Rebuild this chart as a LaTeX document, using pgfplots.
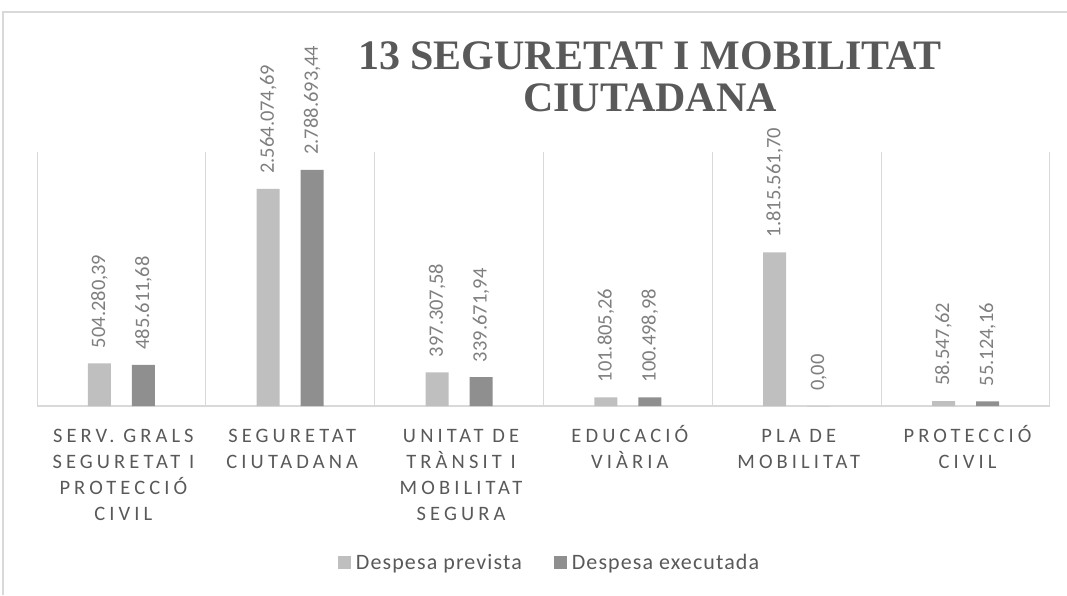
\documentclass[border=0pt]{standalone}
\usepackage{fontspec}
\setmainfont{Carlito}
\newfontfamily\titlefont{Liberation Serif}
\newfontfamily\catfont[LetterSpace=20]{Carlito}
\newfontfamily\legfont[LetterSpace=5]{Carlito}
\usepackage{pgfplots}
\pgfplotsset{compat=1.18}
\usepackage{pgfplotstable}
\definecolor{light}{HTML}{BFBFBF}
\definecolor{dark}{HTML}{8F8F8F}
\definecolor{txt}{HTML}{595959}
\definecolor{lbl}{HTML}{7F7F7F}
\definecolor{gridc}{HTML}{D9D9D9}
\newcommand{\ph}{\vphantom{ÓÀ}}

\pgfplotstableread{
x y lab
0 504280.39 504.280,39
1 2564074.69 2.564.074,69
2 397307.58 397.307,58
3 101805.26 101.805,26
4 1815561.70 1.815.561,70
5 58547.62 58.547,62
}\prevista
\pgfplotstableread{
x y lab
0 485611.68 485.611,68
1 2788693.44 2.788.693,44
2 339671.94 339.671,94
3 100498.98 100.498,98
4 0 0,00
5 55124.16 55.124,16
}\executada

\begin{document}
\begin{tikzpicture}
\path[use as bounding box] (0pt,0pt) rectangle (1067pt,595pt);
\draw[gridc, line width=1.2pt] (3pt,0pt) -- (3pt,583pt) -- (1070pt,583pt);
\begin{axis}[
  at={(37pt,189pt)}, anchor=south west,
  scale only axis, width=1013pt, height=254pt,
  xmin=-0.5, xmax=5.5, ymin=0, ymax=3000000,
  enlargelimits=false, clip=false,
  axis line style={draw=none},
  ytick=\empty,
  extra y ticks={0}, extra y tick labels={},
  extra y tick style={grid=major, major grid style={gridc, line width=1.6pt}, major tick length=0pt},
  xtick={0,...,5},
  minor xtick={-0.5,0.5,...,5.5},
  minor x grid style={gridc, line width=1pt},
  xminorgrids=true,
  major tick length=0pt, minor tick length=0pt,
  xticklabels={{\ph SERV. GRALS\\SEGURETAT I\\PROTECCIÓ\\CIVIL},{\ph SEGURETAT\\CIUTADANA},{\ph UNITAT DE\\TRÀNSIT I\\MOBILITAT\\SEGURA},{\ph EDUCACIÓ\\VIÀRIA},{\ph PLA DE\\MOBILITAT},{\ph PROTECCIÓ\\CIVIL}},
  xticklabel style={font=\catfont\fontsize{20.5}{25.8}\selectfont, text=txt, align=center, anchor=north, inner sep=0pt, yshift=-19.5pt, xshift=2pt},
  ybar=21pt, bar width=23pt,
  point meta=explicit symbolic,
  nodes near coords,
  every node near coord/.append style={font=\fontsize{20.5}{24}\selectfont, text=lbl, rotate=90, anchor=west, inner ysep=0pt, inner xsep=15pt},
  legend columns=2,
  legend style={draw=none, fill=none, font=\legfont\fontsize{22}{24}\selectfont, text=txt,
    at={(0.506,-0.618)}, anchor=center,
    /tikz/every odd column/.append style={column sep=3pt},
    /tikz/every even column/.append style={column sep=30pt}},
  legend image code/.code={\fill[#1, draw=none] (0pt,-6.5pt) rectangle (13pt,6.5pt);},
]
\addplot[fill=light, draw=none] table[x=x, y=y, meta=lab] {\prevista};
\addplot[fill=dark, draw=none] table[x=x, y=y, meta=lab] {\executada};
\legend{Despesa prevista, Despesa executada}
\end{axis}
\node[font=\titlefont\bfseries\fontsize{42}{44}\selectfont, text=txt, anchor=base] at (650pt,525pt) {13 SEGURETAT I MOBILITAT};
\node[font=\titlefont\bfseries\fontsize{42}{44}\selectfont, text=txt, anchor=base] at (650pt,483pt) {CIUTADANA};
\end{tikzpicture}
\end{document}
